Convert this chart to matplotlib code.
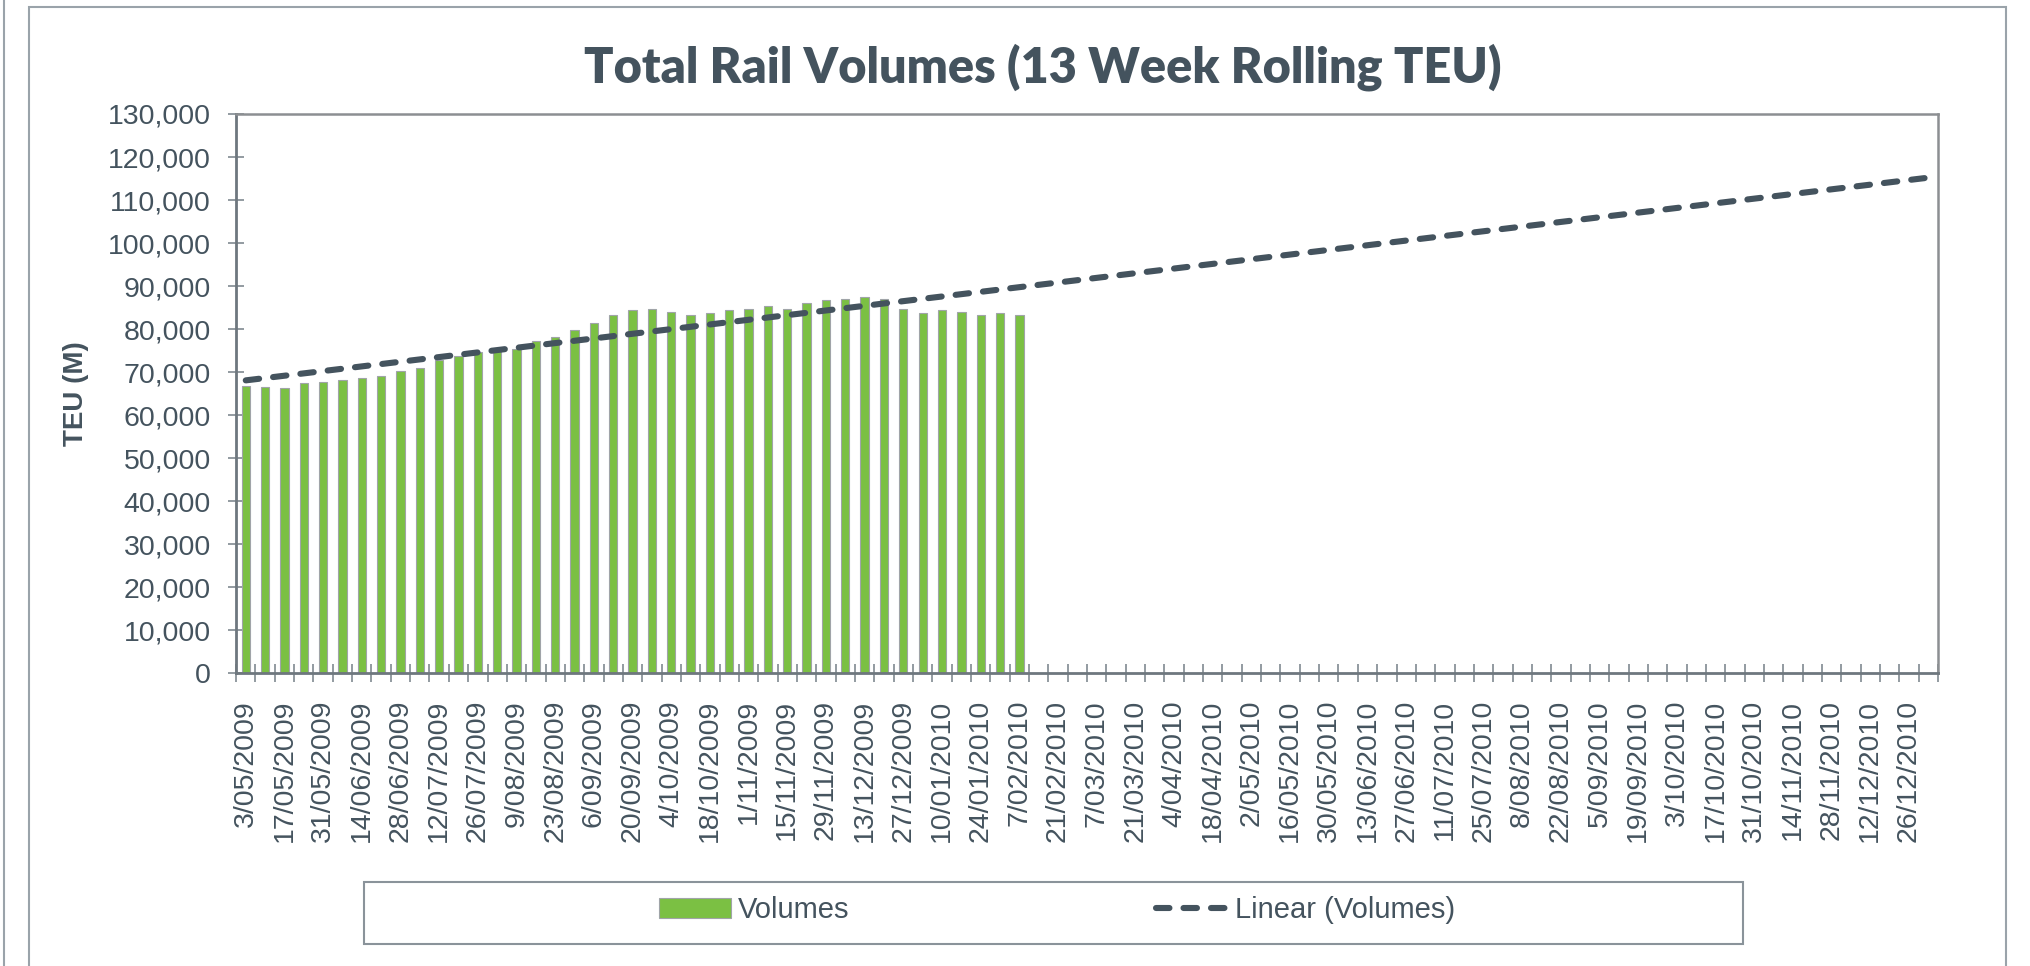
import numpy as np
import pandas as pd
import matplotlib
matplotlib.use('Agg')
import matplotlib.pyplot as plt
from matplotlib.patches import Rectangle
from matplotlib.lines import Line2D
from matplotlib.ticker import FuncFormatter, FixedLocator

# weekly categories, 3/05/2009 .. 2/01/2011
weeks = pd.date_range('2009-05-03', periods=88, freq='7D')
week_labels = [f"{d.day}/{d.month:02d}/{d.year}" for d in weeks]

# 13 week rolling TEU (3/05/2009 .. 7/02/2010)
volumes = [66900, 66600, 66400, 67500, 67800, 68300, 68600, 69200, 70400, 70900,
           72900, 73700, 74800, 75500, 75400, 77300, 78200, 79900, 81500, 83200,
           84500, 84700, 84000, 83400, 83800, 84400, 84700, 85400, 84700, 86000,
           86700, 87100, 87400, 87100, 84700, 83800, 84500, 84000, 83300, 83700,
           83400]

txt = '#44535e'
grid_grey = '#8a939a'
bar_green = '#7bc043'

fig = plt.figure(figsize=(20.3, 9.66), dpi=100)
ax = fig.add_axes([0.1163, 0.3028, 0.9547 - 0.1163, 0.882 - 0.3028])

x = np.arange(len(volumes))
bars = ax.bar(x, volumes, width=0.43, color=bar_green, edgecolor='#a0a4a8', linewidth=0.8,
              label='Volumes', zorder=2)

# linear trend, extended over the whole axis
slope, icpt = np.polyfit(x, volumes, 1)
xt = np.arange(len(weeks))
trend, = ax.plot(xt, slope * xt + icpt, color=txt, lw=4.4, dashes=(2.2, 2.3),
                 dash_capstyle='round', label='Linear (Volumes)', zorder=3)

ax.set_xlim(-0.5, len(weeks) - 0.5)
ax.set_ylim(0, 130000)
ax.set_yticks(np.arange(0, 130001, 10000))
ax.yaxis.set_major_formatter(FuncFormatter(lambda v, p: f"{int(v):,}"))

ax.xaxis.set_major_locator(FixedLocator(xt[::2]))
ax.set_xticklabels(week_labels[::2], rotation=90, va='top', ha='center')
ax.xaxis.set_minor_locator(FixedLocator(np.arange(-0.5, len(weeks), 1)))
ax.tick_params(axis='x', which='major', length=0, pad=19, labelsize=20.5, labelcolor=txt)
ax.tick_params(axis='x', which='minor', direction='inout', length=13, width=1.3, color=grid_grey)
ax.tick_params(axis='y', direction='inout', length=12, width=1.3, color=grid_grey,
               pad=12, labelsize=20.5, labelcolor=txt)
for lab in ax.get_xticklabels() + ax.get_yticklabels():
    lab.set_family(['Liberation Sans', 'DejaVu Sans'])

for s in ['left', 'bottom']:
    ax.spines[s].set_color('#6e777e')
    ax.spines[s].set_linewidth(2)
for s in ['top', 'right']:
    ax.spines[s].set_color('#8c8f92')
    ax.spines[s].set_linewidth(1.8)

fig.text(0.5135, 0.930, 'Total Rail Volumes (13 Week Rolling TEU)', ha='center', va='center',
         fontsize=35, fontweight='heavy', color=txt, family=['Lato', 'DejaVu Sans'])
fig.text(0.0373, 0.593, 'TEU (M)', rotation=90, ha='center', va='center', fontsize=20,
         fontweight='bold', color=txt, family=['Liberation Sans', 'DejaVu Sans'])

# outer chart frame and legend box
fig.add_artist(Rectangle((0.01429, -0.05), 0.98818 - 0.01429, 0.99275 + 0.05,
                         transform=fig.transFigure, fill=False, ec='#9aa3aa', lw=1.5))
fig.add_artist(Line2D([0.002, 0.002], [0, 1], transform=fig.transFigure, color='#9aa3aa', lw=1.5))
fig.add_artist(Rectangle((364 / 2030, 1 - 944 / 966), (1743 - 364) / 2030, 62 / 966,
                         transform=fig.transFigure, fill=False, ec='#8a939a', lw=1.5))

leg = fig.legend([bars, trend], ['Volumes', 'Linear (Volumes)'], loc='center',
                 bbox_to_anchor=(0.5207, 0.058), ncol=2, frameon=False,
                 handlelength=2.45, handleheight=0.7, handletextpad=0.25, columnspacing=10.5,
                 prop={'family': ['Liberation Sans', 'DejaVu Sans'], 'size': 21})
for t in leg.get_texts():
    t.set_color(txt)

fig.savefig('out.png', dpi=100, facecolor='white')
